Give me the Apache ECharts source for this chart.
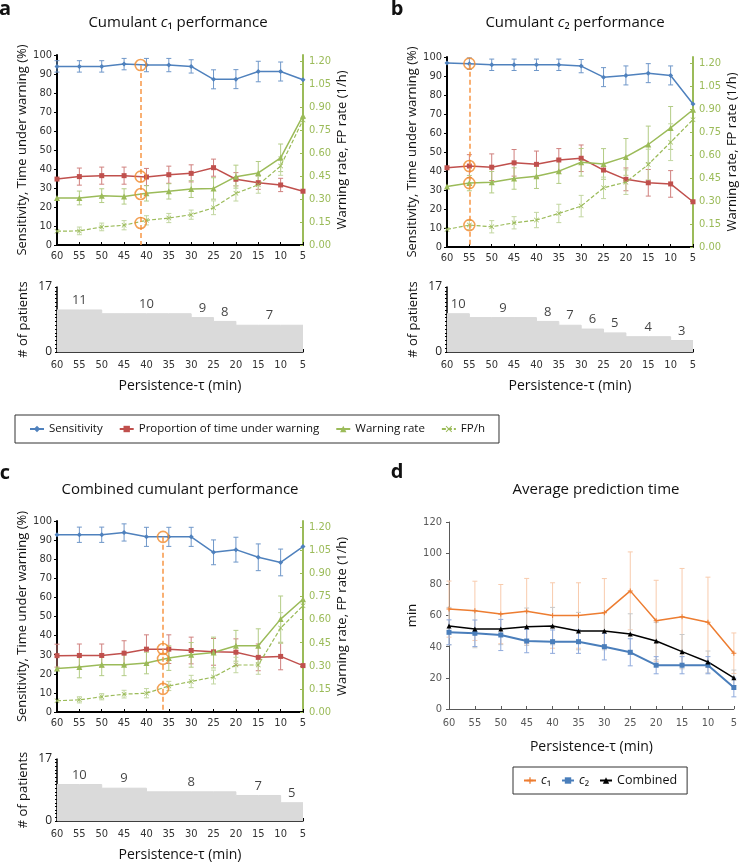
<!DOCTYPE html>
<html>
<head>
<meta charset="utf-8">
<script src="https://cdn.jsdelivr.net/npm/echarts@6/dist/echarts.min.js"></script>
<style>
  html, body { margin: 0; padding: 0; background: #fff; }
  #main { width: 740px; height: 863px; }
</style>
</head>
<body>
<div id="main"></div>
<script>
// persistence-tau categories (min)
var taus = [60, 55, 50, 45, 40, 35, 30, 25, 20, 15, 10, 5];

// panel a : cumulant c1
var sensA    = [94, 94, 94, 95.2, 94.7, 94.7, 94, 87.2, 87.3, 91.3, 91.3, 87];
var sensAErr = [3, 3, 3, 3, 3.5, 3.5, 3.5, 5, 5, 5.4, 5, 0];
var propA    = [34.7, 36, 36.5, 36.5, 35.8, 37, 37.7, 40.7, 34.6, 32.8, 31.6, 28.3];
var propAErr = [0, 4.5, 4.5, 4.5, 4.5, 4.5, 4.5, 4.5, 3.5, 3.5, 3.5, 0];
var warnA    = [0.307, 0.307, 0.322, 0.317, 0.337, 0.35, 0.365, 0.369, 0.446, 0.47, 0.569, 0.844];
var warnAErr = [0, 0.045, 0.045, 0.05, 0.05, 0.05, 0.055, 0.07, 0.075, 0.075, 0.09, 0];
var fpA      = [0.09, 0.092, 0.118, 0.129, 0.161, 0.176, 0.198, 0.243, 0.337, 0.393, 0.515, 0.816];
var fpAErr   = [0, 0.025, 0.025, 0.03, 0.03, 0.03, 0.03, 0.045, 0.05, 0.055, 0.06, 0];
var patientsA = [11, 11, 10, 10, 10, 10, 9, 8, 7, 7, 7];   // per 5-min segment
var tauA = 41.3;
var markA = [94.7, 36, 0.333, 0.144];  // sens, prop, warn, fp at chosen tau

// panel b : cumulant c2
var sensB    = [96.8, 96.5, 95.9, 95.9, 95.9, 95.9, 95.2, 89.4, 90.3, 91.5, 90.3, 75.3];
var sensBErr = [0, 3, 3, 3, 3, 3, 3.5, 5, 5, 5, 5, 0];
var propB    = [41.7, 42.6, 42, 44.3, 43.5, 45.8, 46.7, 40.5, 35.6, 33.8, 33.2, 23.8];
var propBErr = [0, 6, 7, 7, 7, 6, 7, 0, 6, 7, 7, 0];
var warnB    = [0.395, 0.417, 0.423, 0.447, 0.462, 0.495, 0.553, 0.542, 0.588, 0.669, 0.777, 0.896];
var warnBErr = [0, 0.05, 0.07, 0.07, 0.08, 0.08, 0.09, 0.1, 0.12, 0.12, 0.14, 0];
var fpB      = [0.115, 0.143, 0.132, 0.158, 0.176, 0.219, 0.267, 0.386, 0.423, 0.538, 0.684, 0.831];
var fpBErr   = [0, 0.03, 0.04, 0.04, 0.05, 0.06, 0.07, 0.07, 0.08, 0.1, 0.12, 0];
var patientsB = [10, 9, 9, 9, 8, 7, 6, 5, 4, 4, 3];
var tauB = 55;
var markB = [96.5, 42.6, 0.417, 0.143];

// panel c : combined cumulant
var sensC    = [92.8, 92.8, 92.8, 94, 91.7, 91.7, 91.7, 83.6, 85, 81, 78.3, 86.6];
var sensCErr = [0, 4, 4, 4.5, 5, 5, 5, 6.5, 6.5, 7, 7, 0];
var propC    = [29.5, 29.6, 29.6, 30.8, 32.9, 32.9, 32.2, 31.5, 31.3, 28.6, 29.1, 24.3];
var propCErr = [6, 6, 6, 6.5, 7.5, 7.5, 7, 7, 7, 7, 7, 0];
var warnC    = [0.283, 0.292, 0.306, 0.306, 0.318, 0.35, 0.371, 0.386, 0.43, 0.43, 0.603, 0.732];
var warnCErr = [0, 0.07, 0.07, 0.07, 0.07, 0.08, 0.08, 0.1, 0.1, 0.11, 0.15, 0];
var fpC      = [0.073, 0.079, 0.099, 0.116, 0.122, 0.169, 0.198, 0.227, 0.305, 0.305, 0.545, 0.69];
var fpCErr   = [0, 0.02, 0.02, 0.025, 0.03, 0.03, 0.04, 0.045, 0.05, 0.06, 0.1, 0];
var patientsC = [10, 10, 9, 9, 8, 8, 8, 8, 7, 7, 5];
var tauC = 36.3;
var markC = [91.7, 33, 0.345, 0.15];

// panel d : average prediction time (min)
var c1D      = [64.1, 63, 60.9, 62.8, 60, 60, 61.7, 75.8, 56.6, 59.2, 55.6, 35.8];
var c1DErr   = [18, 19, 19, 21, 21, 21, 22, 25, 26, 31, 29, 13];
var c2D      = [49.2, 48.6, 47.5, 43.6, 43.2, 43.2, 40, 36.4, 28.1, 28.1, 28.1, 13.8];
var c2DErr   = [8, 8.5, 10, 7.5, 7.5, 7.5, 8.5, 8.7, 5.5, 5.5, 5.5, 6];
var combD    = [53.2, 51.3, 51.3, 52.8, 53.2, 50, 50, 48.1, 43.6, 36.8, 30.2, 20];
var combDErr = [12, 12, 10, 12, 12, 12, 12, 13, 12, 11, 7, 5];

var BLUE = '#4f81bd', RED = '#c0504d', GREEN = '#9bbb59', ORANGE = '#f79646';
var NARROW = "'Liberation Sans Narrow','DejaVu Sans Condensed',sans-serif";
var SANS = "'Open Sans','Noto Sans',sans-serif";
var X_PATH = 'path://M0,1L1,0L5,4L9,0L10,1L6,5L10,9L9,10L5,6L1,10L0,9L4,5Z';
var PLUS_PATH = 'path://M4,0H6V4H10V6H6V10H4V6H0V4H4Z';

function pairs(ys) {
  return taus.map(function (t, i) { return [t, ys[i]]; });
}
function errData(ys, es) {
  var out = [];
  taus.forEach(function (t, i) { if (es[i] > 0) out.push([t, ys[i] - es[i], ys[i] + es[i]]); });
  return out;
}
function stepData(counts) {
  return taus.map(function (t, i) { return [t, counts[Math.min(i, counts.length - 1)]]; });
}
function runLabels(counts) {
  var out = [], i = 0;
  while (i < counts.length) {
    var j = i;
    while (j + 1 < counts.length && counts[j + 1] === counts[i]) j++;
    out.push([(taus[i] + taus[j + 1]) / 2, counts[i]]);
    i = j + 1;
  }
  return out;
}

function lineS(name, xi, yi, ys, color, symbol, size, dashed, width) {
  return {
    name: name, type: 'line', xAxisIndex: xi, yAxisIndex: yi, data: pairs(ys),
    symbol: symbol, symbolSize: size, showSymbol: true, z: 4,
    itemStyle: { color: color },
    lineStyle: { color: color, width: width || 1.5, type: dashed ? [4, 2] : 'solid' }
  };
}
function errS(xi, yi, ys, es, color) {
  return {
    type: 'custom', xAxisIndex: xi, yAxisIndex: yi, silent: true, z: 3,
    itemStyle: { color: color }, data: errData(ys, es), encode: { x: 0, y: [1, 2] },
    renderItem: function (params, api) {
      var top = api.coord([api.value(0), api.value(2)]);
      var bot = api.coord([api.value(0), api.value(1)]);
      var c = api.visual('color'), w = 2.5;
      return { type: 'group', children: [
        { type: 'line', shape: { x1: top[0], y1: top[1], x2: bot[0], y2: bot[1] }, style: { stroke: c, lineWidth: 1 } },
        { type: 'line', shape: { x1: top[0] - w, y1: top[1], x2: top[0] + w, y2: top[1] }, style: { stroke: c, lineWidth: 1 } },
        { type: 'line', shape: { x1: bot[0] - w, y1: bot[1], x2: bot[0] + w, y2: bot[1] }, style: { stroke: c, lineWidth: 1 } }
      ]};
    }
  };
}

function xAx(gi, opts) {
  opts = opts || {};
  return {
    type: 'value', gridIndex: gi, inverse: true, min: 5, max: 60, interval: 5,
    axisLine: { lineStyle: { color: opts.lineColor || '#000', width: opts.lineWidth || 2 } },
    axisTick: { inside: true, length: 3, lineStyle: { color: opts.lineColor || '#000' } },
    axisLabel: { fontFamily: NARROW, fontSize: 11, color: opts.labelColor || '#333', margin: opts.margin || 6 },
    splitLine: { show: false },
    name: opts.name || '', nameLocation: 'middle', nameGap: opts.nameGap || 27,
    nameTextStyle: { fontFamily: SANS, fontSize: 14, color: '#111' }
  };
}

var grids = [
  { left: 57, top: 55, width: 246, height: 190 },
  { left: 57, top: 287, width: 246, height: 65 },
  { left: 447, top: 57, width: 246, height: 190 },
  { left: 447, top: 287, width: 246, height: 65 },
  { left: 57, top: 521, width: 246, height: 191 },
  { left: 57, top: 759, width: 246, height: 64 },
  { left: 449, top: 522, width: 285, height: 187 }
];

var panels = [
  { sens: sensA, sensErr: sensAErr, prop: propA, propErr: propAErr, warn: warnA, warnErr: warnAErr, fp: fpA, fpErr: fpAErr, pts: patientsA, tau: tauA, mark: markA },
  { sens: sensB, sensErr: sensBErr, prop: propB, propErr: propBErr, warn: warnB, warnErr: warnBErr, fp: fpB, fpErr: fpBErr, pts: patientsB, tau: tauB, mark: markB },
  { sens: sensC, sensErr: sensCErr, prop: propC, propErr: propCErr, warn: warnC, warnErr: warnCErr, fp: fpC, fpErr: fpCErr, pts: patientsC, tau: tauC, mark: markC }
];

var xAxes = [], yAxes = [], series = [];

panels.forEach(function (p, k) {
  var gTop = 2 * k, gBot = 2 * k + 1;
  var yl = 3 * k, yr = 3 * k + 1, yb = 3 * k + 2;
  xAxes.push(xAx(gTop));
  xAxes.push(xAx(gBot, { lineWidth: 1.5, margin: 8, name: 'Persistence-\u03c4 (min)', nameGap: 27 }));

  yAxes.push({
    type: 'value', gridIndex: gTop, min: 0, max: 100, interval: 10,
    axisLine: { show: true, lineStyle: { color: '#000', width: 2 } },
    axisTick: { show: true, length: 3, lineStyle: { color: '#000' } },
    axisLabel: { fontFamily: NARROW, fontSize: 11, color: '#333', margin: 5 },
    splitLine: { show: false },
    name: 'Sensitivity, Time under warning (%)', nameLocation: 'middle', nameGap: 25,
    nameTextStyle: { fontFamily: SANS, fontSize: 13, color: '#111' }
  });
  yAxes.push({
    type: 'value', gridIndex: gTop, position: 'right', min: 0, max: 1.24, interval: 0.15,
    axisLine: { show: true, lineStyle: { color: GREEN, width: 2 } },
    axisTick: { show: true, inside: true, length: 3, lineStyle: { color: GREEN } },
    axisLabel: { fontFamily: NARROW, fontSize: 11, color: GREEN, margin: 6, showMaxLabel: false,
      formatter: function (v) { return v.toFixed(2); } },
    splitLine: { show: false },
    name: 'Warning rate, FP rate (1/h)', nameLocation: 'middle', nameGap: 33,
    nameTextStyle: { fontFamily: SANS, fontSize: 13, color: '#111' }
  });
  yAxes.push({
    type: 'value', gridIndex: gBot, min: 0, max: 17, interval: 1,
    axisLine: { show: true, lineStyle: { color: '#000', width: 1.5 } },
    axisTick: { show: true, length: 2, lineStyle: { color: '#000' } },
    axisLabel: { fontFamily: SANS, fontSize: 12, color: '#222', margin: 5,
      formatter: function (v) { return (v === 0 || v === 17) ? String(v) : ''; } },
    splitLine: { show: false },
    name: '# of patients', nameLocation: 'middle', nameGap: 27,
    nameTextStyle: { fontFamily: SANS, fontSize: 13, color: '#111' }
  });

  // patients step area
  series.push({
    type: 'line', xAxisIndex: gBot, yAxisIndex: yb, data: stepData(p.pts), step: 'end',
    symbol: 'none', lineStyle: { color: '#d9d9d9', width: 1 },
    areaStyle: { color: '#dadada', opacity: 1 }, z: 1, silent: true
  });
  series.push({
    type: 'scatter', xAxisIndex: gBot, yAxisIndex: yb, data: runLabels(p.pts), symbolSize: 0,
    label: { show: true, position: 'top', distance: 3, fontFamily: SANS, fontSize: 13, color: '#111',
      formatter: function (d) { return d.value[1]; } },
    silent: true, z: 5
  });

  // error bars
  series.push(errS(gTop, yl, p.sens, p.sensErr, '#6f97c9'));
  series.push(errS(gTop, yl, p.prop, p.propErr, '#d0807e'));
  series.push(errS(gTop, yr, p.warn, p.warnErr, '#b3cc85'));
  series.push(errS(gTop, yr, p.fp, p.fpErr, '#c2d6a0'));

  // lines
  series.push(lineS('Sensitivity', gTop, yl, p.sens, BLUE, 'diamond', 5, false));
  series.push(lineS('Proportion of time under warning', gTop, yl, p.prop, RED, 'rect', 5, false));
  series.push(lineS('Warning rate', gTop, yr, p.warn, GREEN, 'triangle', 6, false));
  series.push(lineS('FP/h', gTop, yr, p.fp, GREEN, X_PATH, 5, true, 1.2));

  // chosen tau marker
  var ring = { color: 'rgba(0,0,0,0)', borderColor: '#f08a2c', borderWidth: 1.6 };
  series.push({
    type: 'scatter', xAxisIndex: gTop, yAxisIndex: yl, clip: false, z: 6, silent: true,
    data: [[p.tau, p.mark[0]], [p.tau, p.mark[1]]], symbol: 'circle', symbolSize: 11, itemStyle: ring,
    markLine: {
      silent: true, symbol: 'none', label: { show: false },
      lineStyle: { color: ORANGE, type: [5, 3], width: 1.5 },
      data: [[{ coord: [p.tau, p.mark[0]] }, { coord: [p.tau, 0] }]]
    }
  });
  series.push({
    type: 'scatter', xAxisIndex: gTop, yAxisIndex: yr, clip: false, z: 6, silent: true,
    data: [[p.tau, p.mark[2]], [p.tau, p.mark[3]]], symbol: 'circle', symbolSize: 11, itemStyle: ring
  });
});

// panel d
xAxes.push(xAx(6, { lineColor: '#595959', lineWidth: 1, labelColor: '#595959', margin: 9,
  name: 'Persistence-\u03c4 (min)', nameGap: 31 }));
yAxes.push({
  type: 'value', gridIndex: 6, min: 0, max: 120, interval: 20,
  axisLine: { show: true, lineStyle: { color: '#595959', width: 1 } },
  axisTick: { show: true, length: 3, lineStyle: { color: '#595959' } },
  axisLabel: { fontFamily: NARROW, fontSize: 11, color: '#595959', margin: 7 },
  splitLine: { show: false },
  name: 'min', nameLocation: 'middle', nameGap: 22,
  nameTextStyle: { fontFamily: SANS, fontSize: 13, color: '#111' }
});
series.push(errS(6, 9, c1D, c1DErr, '#f8cbad'));
series.push(errS(6, 9, combD, combDErr, '#c9c9c9'));
series.push(errS(6, 9, c2D, c2DErr, '#8faadc'));
series.push(lineS('c1', 6, 9, c1D, '#ed7d31', PLUS_PATH, 5, false, 1.5));
series.push(lineS('c2', 6, 9, c2D, '#4a7ebb', 'rect', 5, false, 2));
series.push(lineS('Combined', 6, 9, combD, '#000', 'triangle', 5, false, 1.5));

var titleRich = {
  n: { fontFamily: SANS, fontSize: 15, color: '#111' },
  i: { fontFamily: SANS, fontSize: 15, color: '#111', fontStyle: 'italic' }
};
function txt(x, y, text, size, weight) {
  return { type: 'text', x: x, y: y, silent: true,
    style: { text: text, fontFamily: SANS, fontSize: size, fontWeight: weight || 'normal', fill: '#111',
      textAlign: 'center', textVerticalAlign: 'middle', rich: titleRich } };
}

var option = {
  animation: false,
  grid: grids,
  xAxis: xAxes,
  yAxis: yAxes,
  series: series,
  legend: [
    {
      data: ['Sensitivity', 'Proportion of time under warning', 'Warning rate', 'FP/h'],
      left: 15, top: 415, padding: [8, 14, 8, 14], itemGap: 16,
      itemWidth: 14, itemHeight: 8, borderColor: '#333', borderWidth: 1,
      textStyle: { fontFamily: SANS, fontSize: 11.5, color: '#111' }, selectedMode: false
    },
    {
      data: ['c1', 'c2', 'Combined'],
      left: 513, top: 767, padding: [7, 10], itemGap: 10,
      itemWidth: 12, itemHeight: 8, borderColor: '#333', borderWidth: 1,
      textStyle: { fontFamily: SANS, fontSize: 12.5, color: '#111',
        rich: { i: { fontFamily: SANS, fontSize: 12.5, fontStyle: 'italic', color: '#111' } } },
      formatter: function (n) { return n === 'Combined' ? n : '{i|c}' + (n === 'c1' ? '\u2081' : '\u2082'); },
      selectedMode: false
    }
  ],
  graphic: [
    txt(5, 9, 'a', 20, 'bold'),
    txt(397, 9, 'b', 20, 'bold'),
    txt(5, 473, 'c', 20, 'bold'),
    txt(397, 472, 'd', 20, 'bold'),
    txt(178, 23, '{n|Cumulant }{i|c}{n|\u2081 performance}', 15),
    txt(575, 23, '{n|Cumulant }{i|c}{n|\u2082 performance}', 15),
    txt(180, 490, 'Combined cumulant performance', 15),
    txt(596, 490, 'Average prediction time', 15)
  ]
};

var chart = echarts.init(document.getElementById('main'));
chart.setOption(option);
</script>
</body>
</html>
